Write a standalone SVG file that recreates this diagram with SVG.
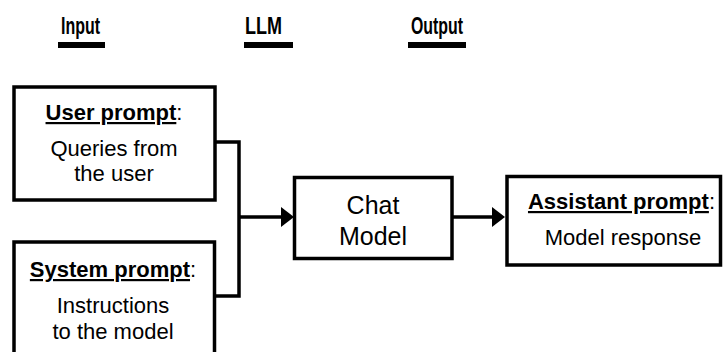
<svg xmlns="http://www.w3.org/2000/svg" width="725" height="352" viewBox="0 0 725 352">
  <defs>
    <style>
      text { font-family: "Liberation Sans", Arial, sans-serif; fill: #000; }
      .col { font-family: "Liberation Sans Narrow", "Liberation Sans", Arial, sans-serif; font-size: 23px; font-weight: bold; }
      .bar { fill: #000; }
      .box { fill: #fff; stroke: #000; stroke-width: 3.5; }
      .body { font-size: 22px; text-anchor: middle; }
      .big { font-size: 25px; text-anchor: middle; }
      .hd { font-weight: bold; text-decoration: underline; }
      .wire { fill: none; stroke: #000; stroke-width: 3.5; stroke-linejoin: miter; }
    </style>
  </defs>

  <!-- column headings -->
  <g id="headings">
    <text class="col" x="61" y="34" textLength="39" lengthAdjust="spacingAndGlyphs">Input</text>
    <rect class="bar" x="58" y="42" width="47" height="6"/>
    <text class="col" x="245" y="34" textLength="37" lengthAdjust="spacingAndGlyphs">LLM</text>
    <rect class="bar" x="244" y="42" width="49" height="6"/>
    <text class="col" x="411" y="34" textLength="52" lengthAdjust="spacingAndGlyphs">Output</text>
    <rect class="bar" x="408" y="42" width="58" height="6"/>
  </g>

  <!-- connectors -->
  <g id="connectors">
    <polyline class="wire" points="215,142 239,142 239,296 214,296"/>
    <line class="wire" x1="239" y1="217" x2="283" y2="217"/>
    <polygon points="281,207 294,217 281,227" fill="#000"/>
    <line class="wire" x1="452" y1="217" x2="494" y2="217"/>
    <polygon points="492,207 505,217 492,227" fill="#000"/>
  </g>

  <g id="user-prompt">
    <rect class="box" x="14" y="87" width="201" height="113"/>
    <text class="body" x="114" y="120"><tspan class="hd">User prompt</tspan>:</text>
    <text class="body" x="114" y="156">Queries from</text>
    <text class="body" x="114" y="181">the user</text>
  </g>

  <g id="system-prompt">
    <rect class="box" x="14" y="242" width="200.5" height="125"/>
    <text class="body" x="113" y="277"><tspan class="hd">System prompt</tspan>:</text>
    <text class="body" x="113" y="313">Instructions</text>
    <text class="body" x="113" y="339">to the model</text>
  </g>

  <g id="chat-model">
    <rect class="box" x="294.5" y="177.5" width="157.5" height="81"/>
    <text class="big" x="373" y="214">Chat</text>
    <text class="big" x="373" y="245">Model</text>
  </g>

  <g id="assistant-prompt">
    <rect class="box" x="507" y="176.5" width="213.5" height="88.5"/>
    <text class="body" x="621.5" y="209"><tspan class="hd">Assistant prompt</tspan>:</text>
    <text class="body" x="623" y="245">Model response</text>
  </g>
</svg>
